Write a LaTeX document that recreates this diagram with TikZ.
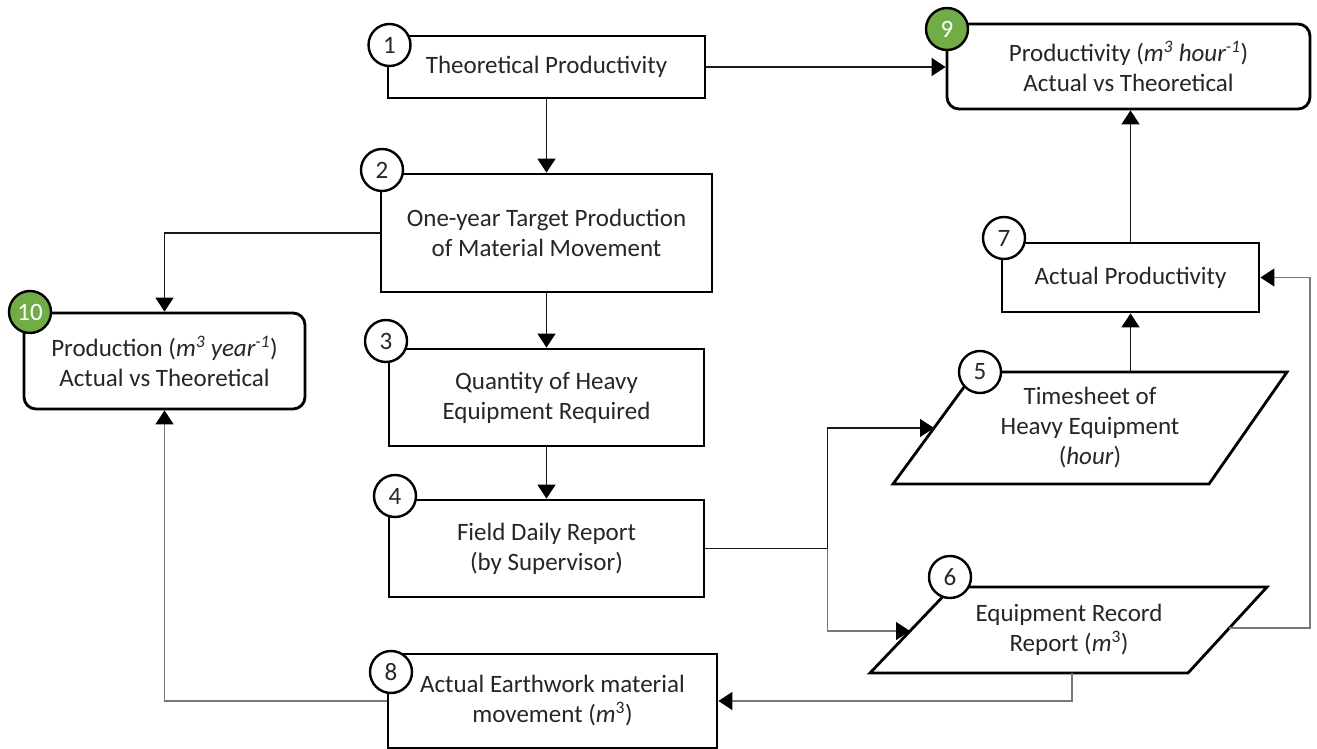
\documentclass[tikz,border=0pt]{standalone}
\usepackage{fontspec}
\setmainfont{Carlito}
\usetikzlibrary{arrows.meta,calc}
\definecolor{ngreen}{RGB}{112,173,71}
\definecolor{txt}{RGB}{38,38,38}
\definecolor{lgray}{RGB}{120,120,120}
\newcommand\myfs{\fontsize{25}{30}\selectfont}
\begin{document}
\begin{tikzpicture}[x=1pt,y=-1pt,
  box/.style={draw=black, line width=2.8pt, fill=white, inner sep=0pt, align=center, font=\myfs, text=txt},
  rbox/.style={box, rounded corners=12pt},
  pshape/.style={draw=black, line width=2.8pt, fill=white},
  ptext/.style={inner sep=0pt, align=center, font=\myfs, text=txt},
  num/.style={circle, draw=black, line width=2.4pt, fill=white, minimum size=42pt, inner sep=0pt, font=\myfs, text=txt},
  gnum/.style={num, fill=ngreen, text=white},
  link/.style={line width=1.4pt, draw=black!90},
  conn/.style={link, -{Triangle[length=14pt,width=18pt,color=black]}},
  gconn/.style={conn, draw=lgray},
  glink/.style={link, draw=lgray}]
\useasboundingbox (0,0) rectangle (1317,749);
\fill[white] (0,0) rectangle (1317,749);

% rectangular boxes
\node[box, minimum width=317pt, minimum height=62pt] (b1) at (546.5,67) {Theoretical Productivity};
\node[box, minimum width=331pt, minimum height=118pt] (b2) at (546.5,233) {One-year Target Production\\of Material Movement};
\node[box, minimum width=315pt, minimum height=97pt] (b3) at (546.5,397.5) {Quantity of Heavy\\Equipment Required};
\node[box, minimum width=315pt, minimum height=97pt] (b4) at (546.5,548.5) {Field Daily Report\\(by Supervisor)};
\node[box, minimum width=329pt, minimum height=94pt] (b8) at (552.5,701) {Actual Earthwork material\\movement (\textit{m}\textsuperscript{3})};
\node[rbox, minimum width=363pt, minimum height=85pt] (b9) at (1128.5,66.5) {Productivity (\textit{m\textsuperscript{3} hour\textsuperscript{-1}})\\Actual vs Theoretical};
\node[rbox, minimum width=281pt, minimum height=96pt] (b10) at (164.5,361) {Production (\textit{m\textsuperscript{3} year\textsuperscript{-1}})\\Actual vs Theoretical};
\node[box, minimum width=257pt, minimum height=69pt] (b7) at (1130.5,277.5) {Actual Productivity};

% parallelograms
\draw[pshape] (975,372) -- (1287,372) -- (1209,484) -- (893,484) -- cycle;
\node[ptext] (p5) at (1090,428) {Timesheet of\\Heavy Equipment\\(\textit{hour})};
\draw[pshape] (952,587) -- (1267,587) -- (1188,673) -- (870,673) -- cycle;
\node[ptext] (p6) at (1069,630) {Equipment Record\\Report (\textit{m}\textsuperscript{3})};

% connection points
\coordinate (p5in) at (934,428);
\coordinate (p5top) at (b7.south |- 0,372);
\coordinate (p6in) at (910,631);
\coordinate (p6out) at (1229,628);
\coordinate (p6bot) at (1072,673);
\coordinate (split) at ($(b4.east)+(122,0)$);
\coordinate (rturn) at (1310,628);

% connectors
\draw[conn] (b1.east) -- (b9.west |- b1.east);
\draw[conn] (b1) -- (b2);
\draw[conn] (b2.west) -| (b10.north);
\draw[conn] (b2) -- (b3);
\draw[conn] (b3) -- (b4);
\draw[link] (b4.east) -- (split);
\draw[conn] (split) |- (p5in);
\draw[gconn] (split) |- (p6in);
\draw[conn] (p5top) -- (b7.south);
\draw[conn] (b7.north) -- (b7.north |- b9.south);
\draw[gconn] (p6out) -- (rturn) |- (b7.east);
\draw[gconn] (p6bot) |- (b8.east);
\draw[gconn] (b8.west) -| (b10.south);

% number badges
\node[num] (n1) at (389.5,45) {1};
\node[num] (n2) at (382,170) {2};
\node[num] (n3) at (386,341) {3};
\node[num] (n4) at (395,496) {4};
\node[num] (n5) at (980,372) {5};
\node[num] (n6) at (950,577) {6};
\node[num] (n7) at (1004,238) {7};
\node[num] (n8) at (391,672) {8};
\node[gnum] (n9) at (947,29) {9};
\node[gnum] (n10) at (30,312) {10};
\end{tikzpicture}
\end{document}
